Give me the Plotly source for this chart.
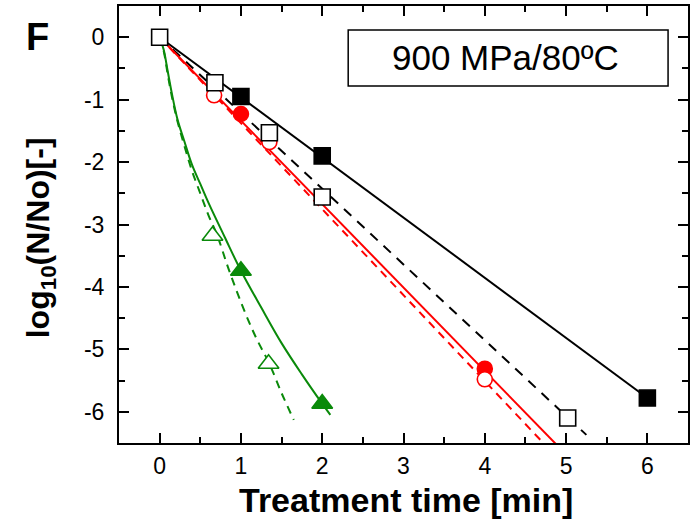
import plotly.graph_objects as go

# ---- data ----
# black: filled squares and solid fit
blk_fill_t = [1.0, 2.0, 6.0]
blk_fill_y = [-0.95, -1.90, -5.78]
blk_fit_t = [0.0, 6.0]
blk_fit_y = [0.0, -5.78]
# black: open squares and dashed fit
blk_open_t = [0.0, 0.68, 1.35, 2.0, 5.02]
blk_open_y = [0.0, -0.73, -1.53, -2.56, -6.10]
blk_dfit_t = [0.0, 5.25]
blk_dfit_y = [0.0, -6.37]
# red: filled circles and solid fit
red_fill_t = [0.0, 1.0, 4.0]
red_fill_y = [0.0, -1.23, -5.31]
red_fit_t = [0.0, 4.9]
red_fit_y = [0.0, -6.55]
# red: open circles and dashed fit
red_open_t = [0.0, 0.67, 1.35, 4.0]
red_open_y = [0.0, -0.93, -1.68, -5.48]
red_dfit_t = [0.0, 4.8]
red_dfit_y = [0.0, -6.61]
# green: filled triangles and solid (curved) fit
grn_fill_t = [1.0, 2.0]
grn_fill_y = [-3.74, -5.87]
grn_fit_t = [0.0, 0.05, 0.10, 0.15, 0.22, 0.30, 0.40, 0.50, 0.60, 0.80, 1.00, 1.25, 1.50, 1.75, 2.00, 2.10]
grn_fit_y = [0.0, -0.20, -0.55, -0.90, -1.32, -1.65, -2.05, -2.35, -2.65, -3.20, -3.74, -4.33, -4.90, -5.40, -5.87, -6.05]
# green: open triangles and dashed fit
grn_open_t = [0.65, 1.34]
grn_open_y = [-3.18, -5.23]
grn_dfit_t = [0.0, 0.05, 0.10, 0.15, 0.22, 0.30, 0.40, 0.50, 0.60, 0.71, 0.85, 1.06, 1.20, 1.35, 1.50, 1.65]
grn_dfit_y = [0.0, -0.22, -0.60, -0.95, -1.35, -1.72, -2.15, -2.50, -2.85, -3.18, -3.72, -4.44, -4.85, -5.23, -5.70, -6.13]

x_ticks = [0, 1, 2, 3, 4, 5, 6]
y_ticks = [0, -1, -2, -3, -4, -5, -6]

RED = "#ff0000"
GRN = "#0a8a0a"
FONT = "Liberation Sans, Arial, sans-serif"

fig = go.Figure()

def line(t, y, color, dash=None, shape="linear"):
    fig.add_trace(go.Scatter(x=t, y=y, mode="lines", showlegend=False, hoverinfo="skip",
                             line=dict(color=color, width=2, dash=dash, shape=shape)))

def marks(t, y, symbol, size, fill, edge):
    fig.add_trace(go.Scatter(x=t, y=y, mode="markers", showlegend=False,
                             marker=dict(symbol=symbol, size=size, color=fill,
                                         line=dict(color=edge, width=1.6))))

line(blk_fit_t, blk_fit_y, "black")
line(blk_dfit_t, blk_dfit_y, "black", dash="10px,8px")
line(red_dfit_t, red_dfit_y, RED, dash="8px,6px")
line(red_fit_t, red_fit_y, RED)
line(grn_dfit_t, grn_dfit_y, GRN, dash="8px,6px", shape="spline")
line(grn_fit_t, grn_fit_y, GRN, shape="spline")

marks(blk_fill_t, blk_fill_y, "square", 16, "black", "black")
marks(red_fill_t, red_fill_y, "circle", 15, RED, RED)
marks(red_open_t, red_open_y, "circle", 15, "white", RED)
marks(blk_open_t, blk_open_y, "square", 16, "white", "black")
marks(grn_open_t, grn_open_y, "triangle-up", 18, "white", GRN)
marks(grn_fill_t, grn_fill_y, "triangle-up", 18, GRN, GRN)

axis_common = dict(showline=True, linecolor="black", linewidth=2, mirror="ticks",
                   ticks="inside", ticklen=10, tickwidth=1.5, tickcolor="black",
                   showgrid=False, zeroline=False,
                   tickfont=dict(family=FONT, size=23, color="black"),
                   minor=dict(ticks="inside", ticklen=6, tickwidth=1.5, tickcolor="black",
                              dtick=0.5, showgrid=False))

fig.update_xaxes(range=[-0.5, 6.5], tickvals=x_ticks, ticktext=[str(v) for v in x_ticks],
                 ticklabelstandoff=1, **axis_common)
fig.update_yaxes(range=[-6.5, 0.5], tickvals=y_ticks, ticktext=[str(v) for v in y_ticks],
                 ticklabelstandoff=8, **axis_common)

# plot area in pixels: x 119..690, y 6..443
fig.add_shape(type="rect", xref="paper", yref="paper", x0=(349 - 119) / 571, x1=(670 - 119) / 571,
              y0=(443 - 86) / 437, y1=(443 - 30) / 437,
              line=dict(color="black", width=1.5), fillcolor="white", layer="above")
fig.add_annotation(text="900 MPa/80ºC", xref="paper", yref="paper", x=(507 - 119) / 571, y=(443 - 58) / 437,
                   xanchor="center", yanchor="middle",
                   showarrow=False, font=dict(family=FONT, size=35, color="black"))
fig.add_annotation(text="<b>F</b>", xref="paper", yref="paper", x=(37 - 119) / 571, y=(443 - 37) / 437,
                   xanchor="center", yanchor="middle",
                   showarrow=False, font=dict(family=FONT, size=38, color="black"))
fig.add_annotation(text="<b>log<sub>10</sub>(N/No)[-]</b>", xref="paper", yref="paper",
                   x=(40 - 119) / 571, y=(443 - 238) / 437, textangle=-90, showarrow=False,
                   xanchor="center", yanchor="middle",
                   font=dict(family=FONT, size=32, color="black"))
fig.add_annotation(text="<b>Treatment time [min]</b>", xref="paper", yref="paper",
                   x=(407 - 119) / 571, y=(443 - 500) / 437, showarrow=False,
                   xanchor="center", yanchor="middle",
                   font=dict(family=FONT, size=34, color="black"))

fig.update_layout(width=690, height=524, margin=dict(l=119, r=0, t=6, b=81),
                  paper_bgcolor="white", plot_bgcolor="white", showlegend=False)

fig.write_html("out.html")
